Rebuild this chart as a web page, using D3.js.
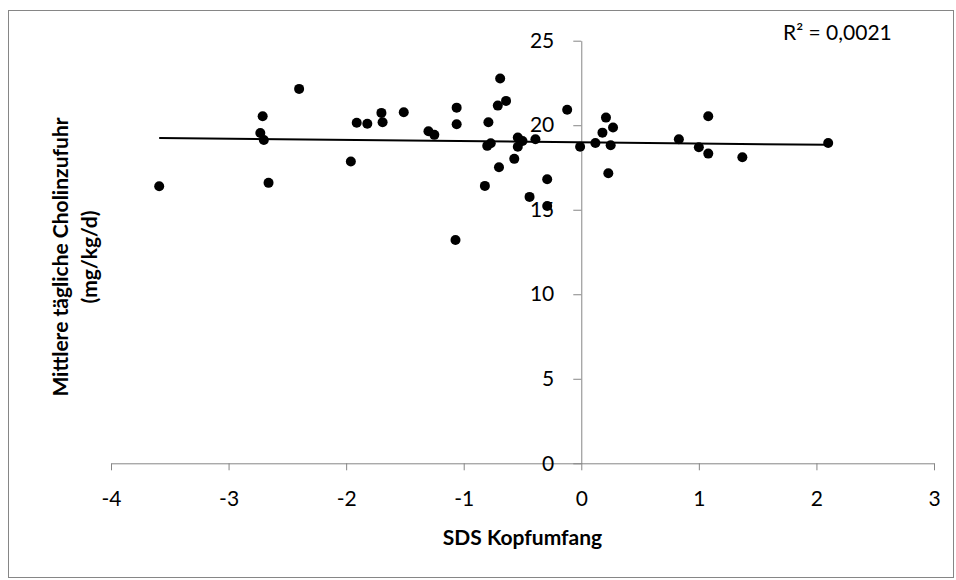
<!DOCTYPE html>
<html>
<head>
<meta charset="utf-8">
<script src="https://cdn.jsdelivr.net/npm/d3@7"></script>
<style>
  body { margin: 0; background: #fff; }
  svg text { font-family: Lato, "Open Sans", sans-serif; fill: #000; }
</style>
</head>
<body>
<div id="chart"></div>
<script>
// SDS Kopfumfang (x) vs. mittlere tägliche Cholinzufuhr (y)
var sdsKopf = [-3.59, -2.40, -2.71, -2.73, -2.70, -2.66, -1.96, -1.91, -1.82, -1.70,
               -1.69, -1.51, -1.30, -1.25, -1.06, -1.06, -1.07, -0.79, -0.80, -0.77,
               -0.82, -0.69, -0.71, -0.64, -0.70, -0.54, -0.54, -0.50, -0.57, -0.39,
               -0.29, -0.44, -0.29, -0.12, -0.01, 0.12, 0.21, 0.18, 0.27, 0.25,
               0.23, 0.83, 1.08, 1.00, 1.08, 1.37, 2.10];
var cholin = [16.39, 22.15, 20.53, 19.54, 19.13, 16.59, 17.85, 20.15, 20.09, 20.73,
              20.18, 20.77, 19.64, 19.43, 21.04, 20.06, 13.21, 20.18, 18.78, 18.93,
              16.41, 22.76, 21.16, 21.44, 17.51, 19.27, 18.73, 19.07, 18.01, 19.17,
              16.80, 15.76, 15.22, 20.91, 18.73, 18.95, 20.45, 19.56, 19.86, 18.82,
              17.16, 19.17, 20.53, 18.70, 18.32, 18.11, 18.95];

var xTicks = [-4, -3, -2, -1, 0, 1, 2, 3];
var yTicks = [0, 5, 10, 15, 20, 25];
var rSquaredLabel = "R² = 0,0021";
var xTitle = "SDS Kopfumfang";
var yTitle = ["Mittlere tägliche Cholinzufuhr", "(mg/kg/d)"];

var width = 956, height = 580;
var fontSize = "21px";

var svg = d3.select("#chart").append("svg")
    .attr("width", width)
    .attr("height", height);

// chart border
svg.append("rect")
    .attr("x", 8.5).attr("y", 10.5)
    .attr("width", 945).attr("height", 567)
    .attr("fill", "#fff")
    .attr("stroke", "#868686");

var x = d3.scaleLinear().domain([-4, 3]).range([111, 934]);
var y = d3.scaleLinear().domain([0, 25]).range([463.3, 40.7]);

var axisColor = "#868686";

// x axis at y = 0
var gx = svg.append("g")
    .attr("transform", "translate(0," + y(0) + ")")
    .call(d3.axisBottom(x).tickValues(xTicks).tickSize(7).tickSizeOuter(0)
      .tickFormat(function(d) { return d; }));
gx.select(".domain").attr("stroke", axisColor);
gx.selectAll(".tick line").attr("stroke", axisColor);
gx.selectAll(".tick text")
    .attr("y", 35).attr("dy", "0.35em")
    .style("font-size", fontSize);

// y axis at x = 0
var gy = svg.append("g")
    .attr("transform", "translate(" + x(0) + ",0)")
    .call(d3.axisLeft(y).tickValues(yTicks).tickSize(8).tickSizeOuter(0));
gy.select(".domain").attr("stroke", axisColor);
gy.selectAll(".tick line").attr("stroke", axisColor);
gy.selectAll(".tick text")
    .attr("x", -27).attr("dy", "0.32em")
    .style("font-size", fontSize);

// trendline (least squares fit of the points)
var mx = d3.mean(sdsKopf), my = d3.mean(cholin);
var sxy = d3.sum(sdsKopf, function(v, i) { return (v - mx) * (cholin[i] - my); });
var sxx = d3.sum(sdsKopf, function(v) { return (v - mx) * (v - mx); });
var slope = sxy / sxx, intercept = my - slope * mx;
var xExt = d3.extent(sdsKopf);

svg.append("line")
    .attr("x1", x(xExt[0])).attr("y1", y(intercept + slope * xExt[0]))
    .attr("x2", x(xExt[1])).attr("y2", y(intercept + slope * xExt[1]))
    .attr("stroke", "#000")
    .attr("stroke-width", 2);

svg.append("g").selectAll("circle")
    .data(sdsKopf)
  .enter().append("circle")
    .attr("cx", function(d) { return x(d); })
    .attr("cy", function(d, i) { return y(cholin[i]); })
    .attr("r", 5)
    .attr("fill", "#000");

svg.append("text")
    .attr("x", 783).attr("y", 40)
    .style("font-size", fontSize)
    .text(rSquaredLabel);

svg.append("text")
    .attr("x", (x.range()[0] + x.range()[1]) / 2).attr("y", 545)
    .attr("text-anchor", "middle")
    .style("font-size", fontSize)
    .style("font-weight", "bold")
    .text(xTitle);

var yt = svg.append("text")
    .attr("transform", "translate(67.5,257) rotate(-90)")
    .attr("text-anchor", "middle")
    .style("font-size", fontSize)
    .style("font-weight", "bold");
yt.selectAll("tspan")
    .data(yTitle)
  .enter().append("tspan")
    .attr("x", 0)
    .attr("dy", function(d, i) { return i === 0 ? 0 : 29; })
    .text(function(d) { return d; });
</script>
</body>
</html>
